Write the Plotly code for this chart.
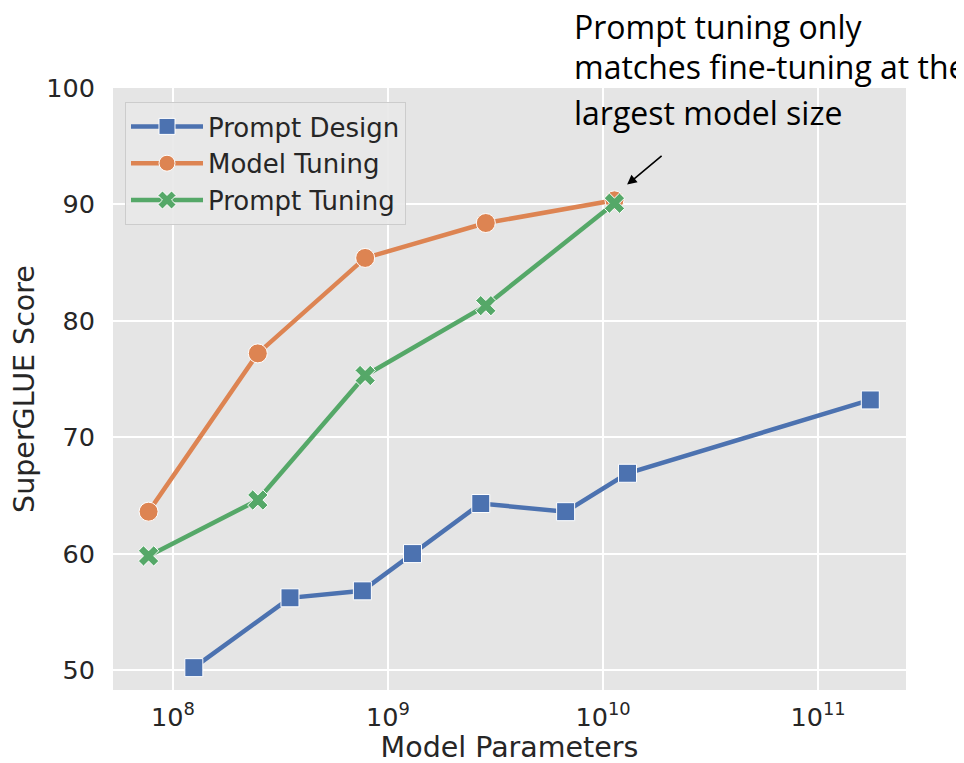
import plotly.graph_objects as go

# ---- data ----
design_params = [1.25e8, 3.5e8, 7.6e8, 1.3e9, 2.7e9, 6.7e9, 1.3e10, 1.75e11]
design_score = [50.2, 56.2, 56.8, 60.0, 64.3, 63.6, 66.9, 73.2]

t5_params = [7.7e7, 2.48e8, 7.83e8, 2.85e9, 1.13e10]
model_tuning_score = [63.6, 77.2, 85.4, 88.4, 90.35]
prompt_tuning_score = [59.8, 64.6, 75.3, 81.3, 90.1]

x_tick_vals = [1e8, 1e9, 1e10, 1e11]
x_tick_text = ["10<sup>8</sup>", "10<sup>9</sup>", "10<sup>10</sup>", "10<sup>11</sup>"]
y_tick_vals = [50, 60, 70, 80, 90, 100]

note_lines = ["Prompt tuning only", "matches fine-tuning at the", "largest model size"]

BLUE = "#4C72B0"
ORANGE = "#DD8452"
GREEN = "#55A868"
TXT = "#262626"

fig = go.Figure()
fig.add_trace(go.Scatter(
    x=design_params, y=design_score, mode="lines+markers", name="Prompt Design",
    line=dict(color=BLUE, width=4.5),
    marker=dict(symbol="square", size=18, color=BLUE, line=dict(color="white", width=1)),
))
fig.add_trace(go.Scatter(
    x=t5_params, y=model_tuning_score, mode="lines+markers", name="Model Tuning",
    line=dict(color=ORANGE, width=4.5),
    marker=dict(symbol="circle", size=19, color=ORANGE, line=dict(color="white", width=1)),
))
fig.add_trace(go.Scatter(
    x=t5_params, y=prompt_tuning_score, mode="lines+markers", name="Prompt Tuning",
    line=dict(color=GREEN, width=4.5),
    marker=dict(symbol="x", size=18, color=GREEN, line=dict(color="white", width=1)),
))

OFF = 8  # page body margin
W, H = 964, 763
# plot area in viewport pixels (reference)
PL, PR, PT, PB = 113, 906, 88, 690
L = PL - OFF
R = W - (PR - OFF)
T = PT - OFF
B = H - (PB - OFF)
ph = PB - PT
pw = PR - PL


def py(pix):
    return (PB - pix) / ph


def px(pix):
    return (pix - PL) / pw


annotations = []
for txt, yc in zip(note_lines, [26, 67, 112]):
    annotations.append(dict(
        text=txt, xref="paper", yref="paper", x=px(572), y=py(yc),
        xanchor="left", yanchor="middle", showarrow=False,
        font=dict(family="Open Sans, Calibri, sans-serif", size=32, color="black"),
    ))
# arrow pointing at the largest model
annotations.append(dict(
    text="", xref="x", yref="y", x=10.112, y=91.7, ax=36, ay=-30,
    showarrow=True, arrowhead=2, arrowsize=1.2, arrowwidth=1.6, arrowcolor="black",
))

fig.update_layout(
    width=W, height=H,
    margin=dict(l=L, r=R, t=T, b=B, autoexpand=False),
    paper_bgcolor="white",
    plot_bgcolor="#E5E5E5",
    font=dict(family="DejaVu Sans, sans-serif", color=TXT, size=22),
    showlegend=True,
    legend=dict(
        x=px(125), y=py(102), xanchor="left", yanchor="top",
        bgcolor="rgba(232,232,232,0.9)", bordercolor="#CCCCCC", borderwidth=1,
        font=dict(size=26, color=TXT), itemwidth=72, tracegroupgap=4,
    ),
    annotations=annotations,
)
fig.update_xaxes(
    type="log", range=[7.721, 11.409],
    tickvals=x_tick_vals, ticktext=x_tick_text,
    showgrid=True, gridcolor="white", gridwidth=1.6,
    zeroline=False, showline=False, ticks="",
    tickfont=dict(size=25.5, color=TXT), ticklabelstandoff=9,
    title=dict(text="Model Parameters", font=dict(size=28.5, color=TXT), standoff=4),
)
fig.update_yaxes(
    range=[48.28, 100.0],
    tickvals=y_tick_vals,
    showgrid=True, gridcolor="white", gridwidth=1.6,
    zeroline=False, showline=False, ticks="",
    tickfont=dict(size=25.5, color=TXT), ticklabelstandoff=17,
    title=dict(text="SuperGLUE Score", font=dict(size=28.5, color=TXT), standoff=6),
)

fig.write_html("out.html")
